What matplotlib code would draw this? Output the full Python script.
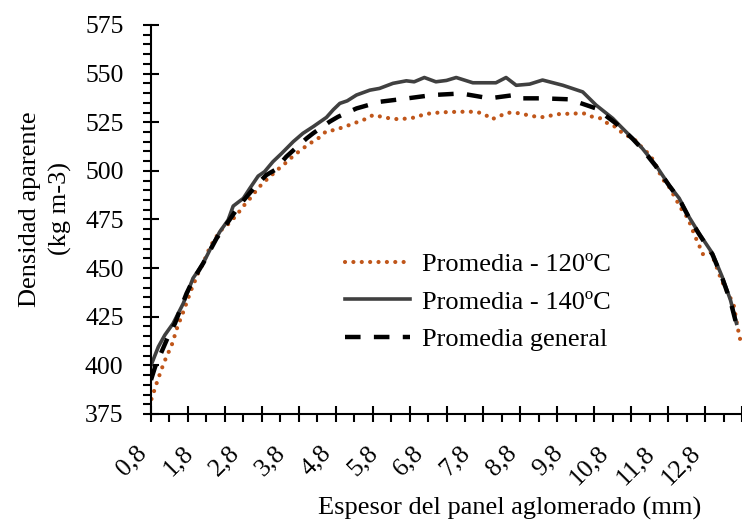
import numpy as np
import matplotlib.pyplot as plt
from matplotlib.ticker import MultipleLocator

plt.rcParams['font.family'] = ['Liberation Serif', 'DejaVu Serif']

# Promedia - 120ºC
x_120 = [0.81, 0.94, 1.08, 1.25, 1.37, 1.52, 1.66, 1.82, 1.92, 2.08, 2.29, 2.45,
         2.59, 2.72, 2.85, 2.98, 3.10, 3.24, 3.39, 3.53, 3.68, 3.82, 3.98, 4.14,
         4.30, 4.45, 4.60, 4.78, 5.10, 5.43, 5.61, 5.97, 6.18, 6.54, 6.72, 7.08,
         7.48, 7.84, 8.02, 8.18, 8.52, 8.70, 9.06, 9.24, 9.64, 10.00, 10.18, 10.36,
         10.54, 10.69, 10.83, 10.98, 11.16, 11.34, 11.44, 11.59, 11.70, 11.87, 12.02,
         12.20, 12.30, 12.43, 12.58, 12.67, 12.75, 12.92, 13.01, 13.14, 13.23, 13.33,
         13.42, 13.53, 13.58]
y_120 = [382.7, 392.1, 401.4, 410.5, 419.6, 428.8, 438.2, 447.3, 452.0, 461.0, 469.0, 472.1,
         475.6, 479.3, 483.3, 486.7, 490.6, 494.1, 497.3, 500.4, 503.3, 506.4, 509.5, 512.4,
         515.0, 517.2, 520.5, 521.0, 523.6, 526.5, 528.7, 527.0, 526.5, 527.5, 529.2, 530.1,
         530.4, 530.4, 529.2, 526.5, 529.9, 529.9, 528.2, 527.5, 529.2, 529.5, 529.5, 527.8,
         527.0, 524.4, 523.0, 520.1, 517.5, 515.0, 511.6, 508.6, 504.7, 496.1, 491.8,
         484.1, 479.9, 475.6, 466.5, 461.8, 457.2, 458.4, 453.2, 444.7, 440.1, 435.6,
         431.0, 416.5, 411.3]

# Promedia - 140ºC
x_140 = [0.80, 0.96, 1.10, 1.28, 1.50, 1.71, 1.93, 2.11, 2.29, 2.47, 2.58, 2.80,
         2.94, 3.12, 3.26, 3.44, 3.63, 3.88, 4.09, 4.31, 4.60, 4.75, 4.89, 5.05,
         5.25, 5.54, 5.75, 6.04, 6.33, 6.50, 6.72, 6.97, 7.20, 7.41, 7.77, 8.27,
         8.49, 8.71, 9.00, 9.28, 9.72, 10.15, 10.44, 10.80, 10.94, 11.23, 11.44,
         11.73, 12.02, 12.24, 12.45, 12.67, 12.96, 13.17, 13.35, 13.48]
y_140 = [400.0, 409.6, 415.6, 421.6, 431.9, 444.8, 452.5, 461.0, 468.7, 474.7, 481.9, 485.9,
         491.0, 497.3, 499.6, 504.7, 509.0, 515.0, 519.3, 522.7, 527.5, 531.5, 534.7, 536.0,
         539.0, 541.5, 542.4, 545.0, 546.3, 545.8, 548.0, 545.8, 546.5, 548.0, 545.3, 545.3,
         548.0, 544.0, 544.6, 546.7, 544.0, 540.6, 533.8, 527.0, 523.6, 516.7, 511.6,
         503.0, 492.7, 485.9, 476.4, 467.9, 457.6, 445.6, 433.6, 421.6]

# Promedia general
x_gen = [0.80, 0.89, 1.03, 1.17, 1.32, 1.43, 1.57, 1.71, 1.93, 2.22, 2.47, 2.72,
         2.87, 3.12, 3.30, 3.48, 3.73, 3.95, 4.17, 4.31, 4.67, 4.85, 5.25, 5.75,
         6.36, 6.90, 7.52, 8.13, 8.67, 8.81, 9.28, 9.86, 10.44, 10.87, 11.23, 11.44,
         11.73, 12.02, 12.24, 12.45, 12.67, 12.96, 13.17, 13.35, 13.48]
y_gen = [392.5, 399.3, 407.0, 414.7, 421.6, 428.5, 437.0, 443.9, 452.5, 465.3, 473.8, 482.4,
         486.7, 493.6, 497.9, 500.4, 507.3, 512.0, 516.7, 519.3, 525.3, 527.8, 532.1, 535.5,
         537.3, 539.0, 539.8, 537.3, 539.0, 537.3, 537.3, 536.8, 532.1, 524.4, 516.5, 511.2,
         502.5, 492.5, 485.5, 476.0, 467.5, 457.0, 445.0, 433.0, 421.0]

label_pos = np.arange(0.8, 12.81, 1.0)
label_txt = [f"{v:.1f}".replace('.', ',') for v in label_pos]

fig = plt.figure(figsize=(7.42, 5.23), dpi=100)
ax = fig.add_axes([151/742, 1 - 414/523, 1 - 151/742, (414 - 25)/523])

ax.plot(x_120, y_120, color='#C0561A', lw=3.0, linestyle=(0, (0.01, 2.0)),
        dash_capstyle='round', label='Promedia - 120ºC')
ax.plot(x_140, y_140, color='#404040', lw=2.6, label='Promedia - 140ºC')
ax.plot(x_gen, y_gen, color='black', lw=3.2, linestyle=(0, (3.5, 3.0)),
        label='Promedia general')

ax.set_xlim(0.8, 13.6)
ax.set_ylim(375, 575)

for s in ['top', 'right']:
    ax.spines[s].set_visible(False)
for s in ['left', 'bottom']:
    ax.spines[s].set_linewidth(1.5)

ax.yaxis.set_major_locator(MultipleLocator(25))
ax.yaxis.set_minor_locator(MultipleLocator(5))
ax.xaxis.set_major_locator(MultipleLocator(0.8))
ax.xaxis.set_minor_locator(MultipleLocator(0.4))
ax.tick_params(which='major', direction='inout', length=11.5, width=1.5)
ax.tick_params(which='minor', direction='out', length=5.8, width=1.5)
ax.tick_params(axis='y', labelsize=18.5, pad=14)
ax.tick_params(axis='x', labelbottom=False)

sec = ax.secondary_xaxis('bottom')
sec.set_xticks(label_pos, label_txt)
sec.tick_params(length=0, labelsize=18.5, pad=20)
for lbl in sec.get_xticklabels():
    lbl.set_rotation(45)
    lbl.set_ha('right')
sec.spines['bottom'].set_visible(False)

ax.set_xlabel('Espesor del panel aglomerado (mm)', fontsize=19)
ax.xaxis.set_label_coords(0.606, -0.213)
ax.set_ylabel('Densidad aparente\n(kg m-3)', fontsize=19, multialignment='center',
              linespacing=1.45)
ax.yaxis.set_label_coords(-0.134, 0.527)

fig.legend(loc='upper left', bbox_to_anchor=(345/742, 1 - 253/523), frameon=False,
           fontsize=19, handlelength=2.46, handletextpad=0.45, labelspacing=0.52,
           borderpad=0, borderaxespad=0)

fig.savefig('out.png', dpi=100)
